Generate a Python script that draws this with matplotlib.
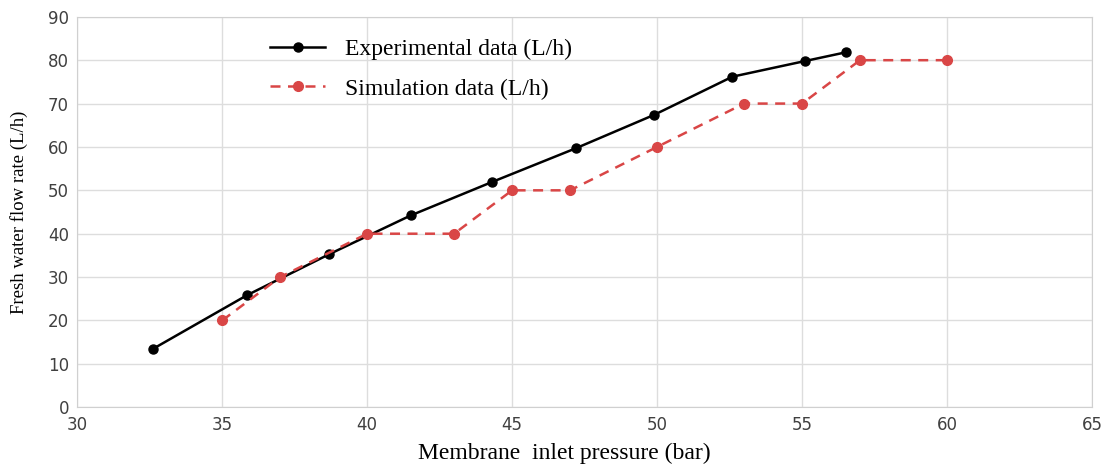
import matplotlib.pyplot as plt

# experimental data
exp_pressure = [32.6, 35.85, 38.7, 41.5, 44.3, 47.2, 49.9, 52.6, 55.1, 56.5]
exp_flow = [13.4, 25.8, 35.3, 44.2, 51.9, 59.7, 67.4, 76.2, 79.8, 81.8]

# simulation data
sim_pressure = [35, 37, 40, 43, 45, 47, 50, 53, 55, 57, 60]
sim_flow = [20, 30, 40, 40, 50, 50, 60, 70, 70, 80, 80]

x_ticks = [30, 35, 40, 45, 50, 55, 60, 65]
y_ticks = [0, 10, 20, 30, 40, 50, 60, 70, 80, 90]

fig = plt.figure(figsize=(11.03, 4.67), dpi=100)
ax = fig.add_axes([0.07, 0.128, 0.92, 0.836])

ax.plot(exp_pressure, exp_flow, color="black", linewidth=1.8, marker="o",
        markersize=6.5, label="Experimental data (L/h)", zorder=3)
ax.plot(sim_pressure, sim_flow, color="#d94646", linewidth=1.8, linestyle=(0, (4, 3)),
        marker="o", markersize=7, label="Simulation data (L/h)", zorder=3)

ax.set_xlim(30, 65)
ax.set_ylim(0, 90)
ax.set_xticks(x_ticks)
ax.set_yticks(y_ticks)
ax.grid(True, color="#dddddd", linewidth=1)
ax.set_axisbelow(True)
for s in ax.spines.values():
    s.set_color("#d0d0d0")
ax.tick_params(length=0, labelsize=12, labelcolor="#404040", pad=6)
for lbl in ax.get_xticklabels() + ax.get_yticklabels():
    lbl.set_family("DejaVu Sans")

ax.set_xlabel("Membrane  inlet pressure (bar)", family="Liberation Serif", fontsize=17, labelpad=7)
ax.xaxis.set_label_coords(0.48, -0.09, transform=ax.transAxes)
ax.xaxis.label.set_va("top")
ax.set_ylabel("Fresh water flow rate (L/h)", family="Liberation Serif", fontsize=13.5, labelpad=14)

ax.legend(loc="upper left", bbox_to_anchor=(0.19, 0.945), frameon=False,
          borderaxespad=0, borderpad=0,
          prop={"family": "Liberation Serif", "size": 17}, handlelength=2.33,
          labelspacing=0.78, handletextpad=0.85)

plt.savefig("out.png", dpi=100)
